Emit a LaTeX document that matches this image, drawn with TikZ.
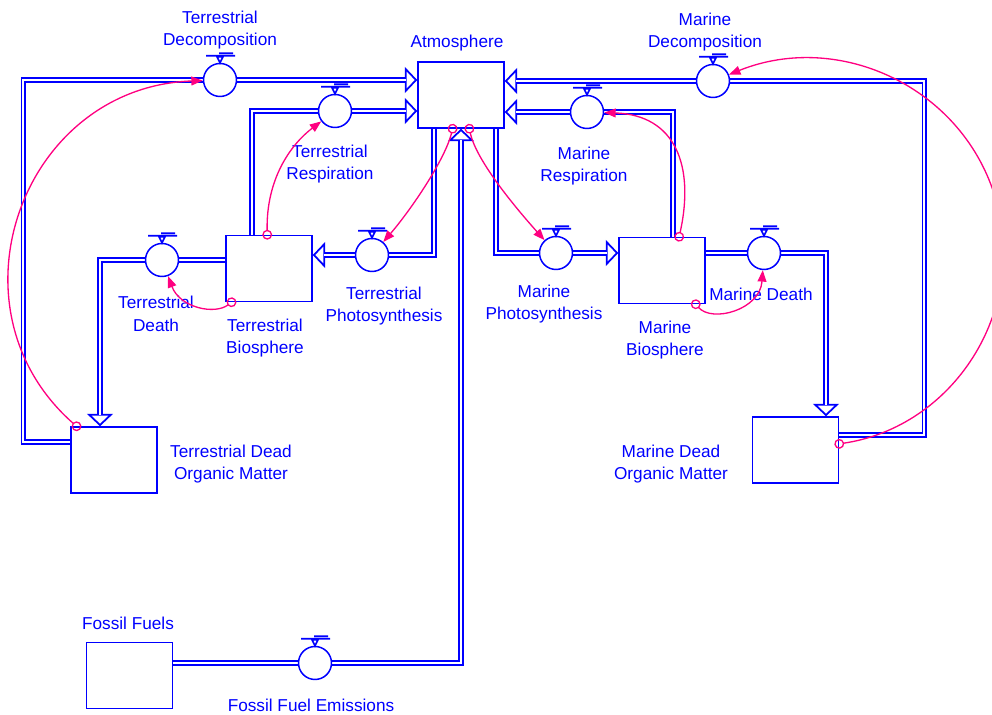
\documentclass[tikz,border=0pt]{standalone}
\usepackage{fontspec}
\setmainfont{Liberation Sans}
\usetikzlibrary{arrows.meta,backgrounds}
\definecolor{linkpink}{RGB}{255,0,128}

\begin{document}
\begin{tikzpicture}[
        x=0.02cm, y=-0.02cm,
        stock/.style = {draw=blue, fill=white, line width=0.85pt, inner sep=0pt, minimum width=1.72cm, minimum height=1.32cm},
        valve/.style = {circle, draw=blue, fill=white, line width=0.85pt, inner sep=0pt, minimum size=0.66cm},
        lbl/.style = {text=blue, align=center, inner sep=0pt, font=\fontsize{9.8}{13}\selectfont},
        pipe/.style = {draw=blue, line width=3pt,
            -{Triangle[length=0.25cm, width=0.52cm, fill=white, line width=1pt]},
            postaction={draw=white, line width=1.2pt, -, shorten >=0.22cm}},
        info/.style = {draw=linkpink, line width=0.75pt, shorten <=-2.8pt,
            {Circle[open, length=5.6pt, width=5.6pt]}-{Triangle[length=6.5pt, width=5pt]}}
    ]
    \useasboundingbox (0,0) rectangle (992,715);
    \clip (0,0) rectangle (992,715);

    % stocks
    \node[stock] (atm)  at (461,95)    {};
    \node[stock] (tbio) at (269,268.5) {};
    \node[stock] (mbio) at (662,270.5) {};
    \node[stock] (tdom) at (114,460)   {};
    \node[stock] (mdom) at (795.5,450) {};
    \node[stock] (ff)   at (129.5,675.5) {};

    % valves
    \node[valve] (tdecv) at (220,80)  {};
    \node[valve] (tresv) at (335,111) {};
    \node[valve] (tphov) at (372,255) {};
    \node[valve] (tdeav) at (162,260) {};
    \node[valve] (mdecv) at (713,81)  {};
    \node[valve] (mresv) at (587,112) {};
    \node[valve] (mphov) at (556,253) {};
    \node[valve] (mdeav) at (764,253) {};
    \node[valve] (ffev)  at (315,663) {};

    \foreach \v in {tdecv,tresv,tphov,tdeav,mdecv,mresv,mphov,mdeav,ffev} {
        \draw[blue, line width=0.9pt] (\v.north) -- ++(-3,-6) -- ++(6,0) -- cycle
            ([shift={(-14,-7)}]\v.north) -- ++(29,0)
            ([shift={(-1,-9.5)}]\v.north) -- ++(14,0);
    }

    % labels
    \node[lbl] (atmlbl)  at (457,43)  {Atmosphere};
    \node[lbl] (tdeclbl) at (220,30)  {Terrestrial\\Decomposition};
    \node[lbl] (mdeclbl) at (705,32)  {Marine\\Decomposition};
    \node[lbl] (treslbl) at (330,164) {Terrestrial\\Respiration};
    \node[lbl] (mreslbl) at (584,166) {Marine\\Respiration};
    \node[lbl] (tpholbl) at (384,306) {Terrestrial\\Photosynthesis};
    \node[lbl] (mpholbl) at (544,304) {Marine\\Photosynthesis};
    \node[lbl] (tdealbl) at (156,314) {Terrestrial\\Death};
    \node[lbl] (tbiolbl) at (265,338) {Terrestrial\\Biosphere};
    \node[lbl] (mbiolbl) at (665,340) {Marine\\Biosphere};
    \node[lbl] (mdealbl) at (761,294) {Marine Death};
    \node[lbl] (tdomlbl) at (231,464) {Terrestrial Dead\\Organic Matter};
    \node[lbl] (mdomlbl) at (671,464) {Marine Dead\\Organic Matter};
    \node[lbl] (fflbl)   at (128,623) {Fossil Fuels};
    \node[lbl] (ffelbl)  at (311,705) {Fossil Fuel Emissions};

    % flows
    \begin{scope}[on background layer]
        \draw[pipe] ([shift={(0,-18)}]tdom.west) -- ++(-47,0) |- (tdecv) -- (atm.west |- tdecv);
        \draw[pipe] ([shift={(-17,0)}]tbio.north) |- (tresv) -- (atm.west |- tresv);
        \draw[pipe] ([shift={(-27,0)}]atm.south) |- (tphov) -- (tbio.east |- tphov);
        \draw[pipe] (tbio.west |- tdeav) -- (tdeav) -| ([shift={(-14,0)}]tdom.north);
        \draw[pipe] ([shift={(0,-15)}]mdom.east) -- ++(85,0) |- (mdecv) -- (atm.east |- mdecv);
        \draw[pipe] ([shift={(11,0)}]mbio.north) |- (mresv) -- (atm.east |- mresv);
        \draw[pipe] ([shift={(35,0)}]atm.south) |- (mphov) -- (mbio.west |- mphov);
        \draw[pipe] (mbio.east |- mdeav) -- (mdeav) -| ([shift={(30.5,0)}]mdom.north);
        \draw[pipe] (ff.east |- ffev) -- (ffev) -| (atm.south);
    \end{scope}

    % links
    \draw[info] (tdom.138) .. controls (-58,308) and (22,87) .. (tdecv);
    \draw[info] (tbio.93) .. controls (266,180) and (290,145) .. (tresv);
    \draw[info] (atm.256) .. controls (445,160) and (410,211) .. (tphov);
    \draw[info] (atm.284) .. controls (476,160) and (514,206) .. (mphov);
    \draw[info] (mbio.63) .. controls (695,165) and (675,115) .. (mresv);
    \draw[info] (tbio.222) .. controls (215,315) and (180,308) .. (tdeav);
    \draw[info] (mbio.315) .. controls (712,323) and (760,310) .. (mdeav);
    \draw[info] (mdom.8) .. controls (953,427) and (1028,312) .. (996,200)
        .. controls (964,88) and (840,30) .. (mdecv);
\end{tikzpicture}
\end{document}
